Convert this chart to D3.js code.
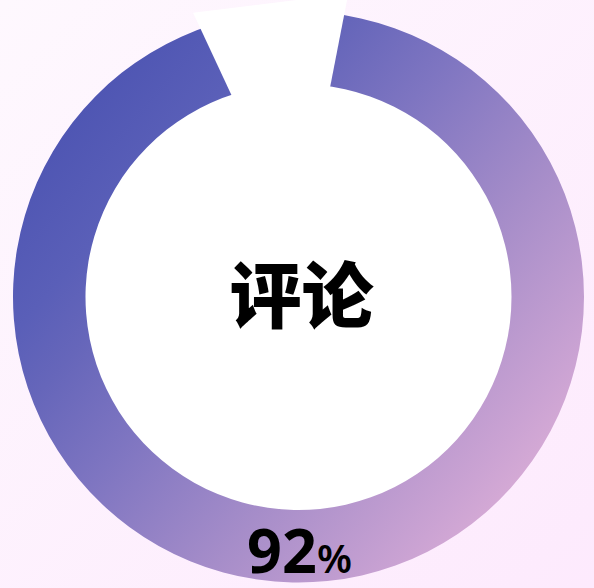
<!DOCTYPE html>
<html>
<head>
<meta charset="utf-8">
<script src="https://cdn.jsdelivr.net/npm/d3@7"></script>
<style>
  html, body { margin: 0; padding: 0; background: #fdf3fd; }
  svg { display: block; }
</style>
</head>
<body>
<svg id="chart" width="594" height="588"></svg>
<script>
// ---- data ----
const categories = ["评论", "剩余"];
const values = [92, 8];
const labelName = "评论";
const percentLabel = "92";
const percentSuffix = "%";

// ---- layout / style ----
const W = 594, H = 588;
const cx = 298.5, cy = 297;
const outerR = 285.5, innerR = 213;
const wedgeShift = { dx: 1.5, dy: -55 };
const wedgeLen = 253;
const wedgeExtra = { before: 4.8, after: 2.4 }; // degrees
const deg = Math.PI / 180;
const gradAngle = 40 * deg;

const svg = d3.select("#chart");
const defs = svg.append("defs");

const bg = defs.append("linearGradient").attr("id", "bgGrad")
  .attr("x1", 0).attr("y1", 0).attr("x2", 1).attr("y2", 1);
bg.append("stop").attr("offset", 0).attr("stop-color", "#fef8fe");
bg.append("stop").attr("offset", 1).attr("stop-color", "#fdeafd");

// ring gradient (ring-centred coords)
const gx = outerR * Math.cos(gradAngle), gy = outerR * Math.sin(gradAngle);
const rg = defs.append("linearGradient").attr("id", "ringGrad")
  .attr("gradientUnits", "userSpaceOnUse")
  .attr("x1", -gx).attr("y1", -gy).attr("x2", gx).attr("y2", gy);
[[0, "#4f56b3"], [0.16, "#5a5fb8"], [0.26, "#6666ba"], [0.43, "#7e75c1"],
 [0.69, "#a68dc9"], [0.94, "#cba3d3"], [1, "#d4a9d5"]]
  .forEach(([o, c]) => rg.append("stop").attr("offset", o).attr("stop-color", c));

svg.append("rect").attr("width", W).attr("height", H).attr("fill", "url(#bgGrad)");

// pie: gap (remaining slice) centred just left of the top
const gapMid = -5.8 * deg;
const gapHalf = Math.PI * values[1] / d3.sum(values);
const pie = d3.pie().sort(null).value(d => d)
  .startAngle(gapMid + gapHalf)
  .endAngle(gapMid + gapHalf + 2 * Math.PI);
const slices = pie(values);

const g = svg.append("g").attr("transform", `translate(${cx},${cy})`);

// white inner disc
g.append("circle").attr("r", innerR + 1).attr("fill", "#ffffff");

// gradient ring (value slice), tucked slightly under the white wedge
const ringArc = d3.arc().innerRadius(innerR).outerRadius(outerR);
const s0 = slices[0];
g.append("path")
  .attr("d", ringArc({ startAngle: s0.startAngle - 3 * deg, endAngle: s0.endAngle + 3 * deg }))
  .attr("fill", "url(#ringGrad)");

// white wedge for the remaining slice
const s1 = slices[1];
const a0 = s1.startAngle - wedgeExtra.before * deg;
const a1 = s1.endAngle + wedgeExtra.after * deg;
const apex = [wedgeShift.dx, wedgeShift.dy];
const p0 = d3.pointRadial(a0, wedgeLen);
const p1 = d3.pointRadial(a1, wedgeLen);
const wedgePts = [apex, [apex[0] + p0[0], apex[1] + p0[1]], [apex[0] + p1[0], apex[1] + p1[1]]];
g.append("path")
  .attr("d", d3.line()(wedgePts) + "Z")
  .attr("fill", "#ffffff");

// center label
g.append("text")
  .attr("x", 3).attr("y", -7)
  .attr("text-anchor", "middle")
  .attr("dominant-baseline", "central")
  .attr("font-family", "'Noto Sans CJK SC', sans-serif")
  .attr("font-weight", 900)
  .attr("font-size", 72)
  .attr("fill", "#000")
  .text(labelName);

// percent label
const pt = g.append("text")
  .attr("x", 1).attr("y", 276)
  .attr("text-anchor", "middle")
  .attr("font-family", "'Noto Sans', 'Open Sans', sans-serif")
  .attr("fill", "#000");
pt.append("tspan").attr("font-size", 61).attr("font-weight", 700).text(percentLabel);
pt.append("tspan").attr("font-size", 40).attr("font-weight", 600).text(percentSuffix);
</script>
</body>
</html>
